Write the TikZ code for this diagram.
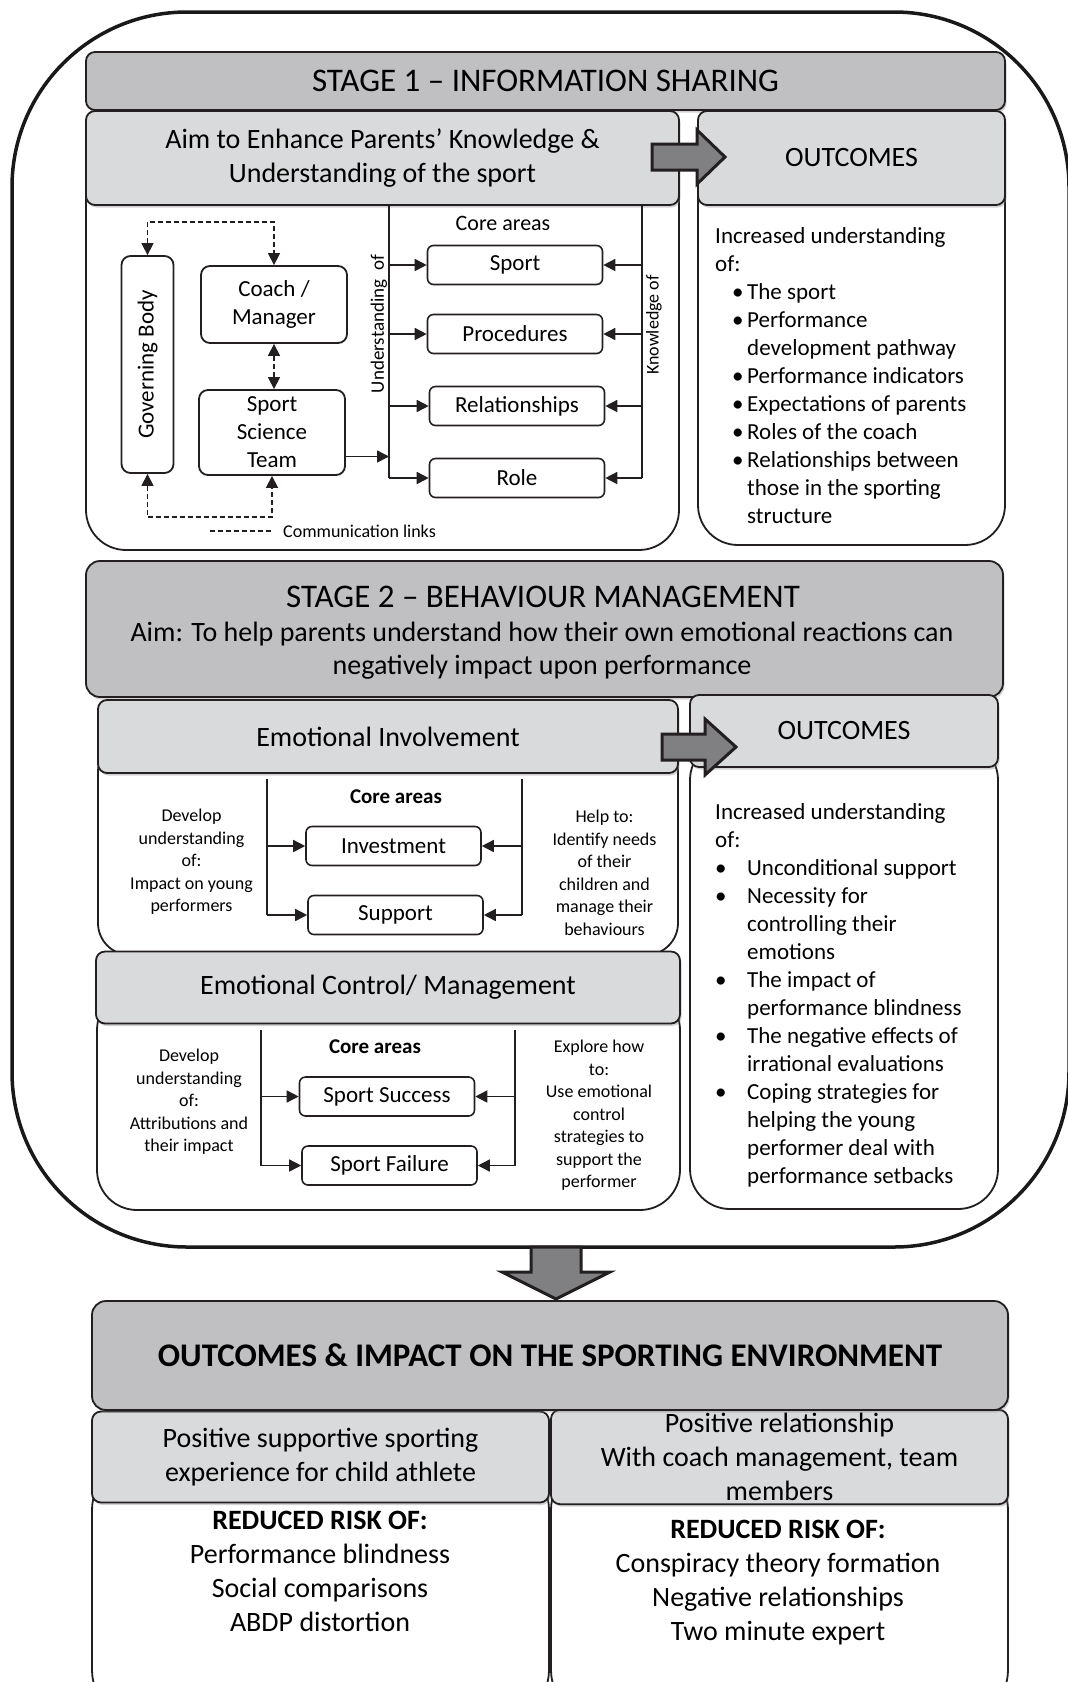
\documentclass[tikz,border=0pt]{standalone}
\usepackage{fontspec}
\setmainfont{Carlito}
\usetikzlibrary{arrows.meta,shadows}

\definecolor{hdrgray}{RGB}{192,192,194}
\definecolor{subgray}{RGB}{217,218,219}
\definecolor{arrgray}{RGB}{128,128,130}
\definecolor{linegray}{RGB}{35,31,32}

\newcommand{\fsz}[2]{\fontsize{#1}{#2}\selectfont}
\newcommand{\bulA}{\hspace*{17pt}\makebox[15pt][l]{\textbullet}}
\newcommand{\indA}{\hspace*{32pt}}
\newcommand{\bulB}{\makebox[32pt][l]{\textbullet}}

\begin{document}
\begin{tikzpicture}[x=1pt,y=-1pt,
    hdr/.style={draw=linegray, line width=1.8pt, fill=hdrgray, rounded corners=9pt,
        drop shadow={opacity=0.35, shadow xshift=1.5pt, shadow yshift=-2.5pt},
        font=\fsz{28}{34}, align=center},
    sub/.style={hdr, fill=subgray},
    body/.style={draw=linegray, line width=1.8pt, fill=white, rounded corners=40pt},
    core/.style={draw=linegray, line width=1.6pt, fill=white, rounded corners=6pt,
        minimum width=175pt, minimum height=39pt, font=\fsz{23}{28}},
    box/.style={draw=linegray, line width=1.8pt, rounded corners=9pt, align=center,
        font=\fsz{23}{28}, inner sep=0pt},
    ln/.style={linegray, line width=1.6pt},
    arr/.style={ln, -{Triangle[length=12pt,width=12pt]}},
    dlink/.style={linegray, line width=1.4pt, dash pattern=on 5pt off 3pt,
        {Triangle[length=12pt,width=12pt]}-{Triangle[length=12pt,width=12pt]}},
    small/.style={align=center, font=\fsz{18}{22.5}, inner sep=0pt},
    blockarr/.style={draw=linegray, line width=3pt, fill=arrgray, line join=miter}
]
    \useasboundingbox (0,0) rectangle (1068,1682);
    \clip (0,0) rectangle (1068,1682);

    % outer frame
    \draw[black!90, line width=3.5pt, rounded corners=175pt] (12,12) rectangle (1069,1247);

    % stage 1
    \draw[body] (86,150) rectangle (679,550);
    \draw[body] (698,150) rectangle (1005,545);
    \node[hdr, minimum width=919, minimum height=58, font=\fsz{33}{39}] (stA) at (545.5,81) {STAGE 1 – INFORMATION SHARING};
    \node[sub, minimum width=593, minimum height=94] (aim) at (382.5,158) {Aim to Enhance Parents’ Knowledge \&\\Understanding of the sport};
    \node[sub, minimum width=307, minimum height=94] (outA) at (851.5,158) {OUTCOMES};
    \draw[blockarr] (652,144) -- (697,144) -- (697,130) -- (725,157) -- (697,184) -- (697,170) -- (652,170) -- cycle;

    \node[box, minimum width=52, minimum height=217] (gb) at (147.5,364.5) {\rotatebox{90}{Governing Body}};
    \node[box, minimum width=146, minimum height=77] (coach) at (274,304.5) {Coach /\\Manager};
    \node[box, minimum width=146, minimum height=85] (sst) at (272,432.5) {Sport\\Science\\Team};
    \draw[dlink] (gb.north) -- ++(0,-33) -| (coach.north);
    \draw[dlink] (coach.south) -- (coach.south |- sst.north);
    \draw[dlink] (gb.south) -- ++(0,43) -| (sst.south);
    \coordinate (lgs) at (210,531);
    \node[anchor=west, font=\fsz{18}{22}, inner sep=0pt] (lgd) at (283,531) {Communication links};
    \draw[linegray, line width=1.4pt, dash pattern=on 5pt off 3pt, shorten >=11pt] (lgs) -- (lgd.west);

    \coordinate (undT) at (389,206);
    \coordinate (undB) at (389,478);
    \coordinate (knoT) at (642,206);
    \coordinate (knoB) at (642,478);
    \draw[ln] (undT) -- (undB);
    \draw[ln] (knoT) -- (knoB);
    \node[font=\fsz{22}{26}] (crA) at (503,223) {Core areas};
    \node[font=\fsz{19}{22}] (undlab) at (379,324) {\rotatebox{90}{Understanding\ \ of}};
    \node[font=\fsz{18}{22}] (knolab) at (654,325) {\rotatebox{90}{Knowledge of}};

    \node[core] (sport) at (515,265) {Sport};
    \node[core] (proc) at (515,334) {Procedures};
    \node[core] (rel) at (517,406) {Relationships};
    \node[core] (role) at (517,478) {Role};
    \draw[arr] (undT |- sport.west) -- (sport.west);
    \draw[arr] (undT |- proc.west) -- (proc.west);
    \draw[arr] (undT |- rel.west) -- (rel.west);
    \draw[arr] (undT |- role.west) -- (role.west);
    \draw[arr] (knoT |- sport.east) -- (sport.east);
    \draw[arr] (knoT |- proc.east) -- (proc.east);
    \draw[arr] (knoT |- rel.east) -- (rel.east);
    \draw[arr] (knoT |- role.east) -- (role.east);
    \draw[arr] ([yshift=-24pt]sst.east) -- ([yshift=-24pt]sst.east -| undT);

    \node[anchor=north west, align=left, inner sep=0pt, font=\fsz{23}{28}] (outAtxt) at (715,227) {Increased understanding\\
        of:\\
        \bulA The sport\\
        \bulA Performance\\
        \indA development pathway\\
        \bulA Performance indicators\\
        \bulA Expectations of parents\\
        \bulA Roles of the coach\\
        \bulA Relationships between\\
        \indA those in the sporting\\
        \indA structure};

    % stage 2
    \node[hdr, minimum width=917, minimum height=136, rounded corners=14pt] (stB) at (544.5,629) {};
    \node[font=\fsz{33}{39}] (stBtl) at (543,597) {STAGE 2 – BEHAVIOUR MANAGEMENT};
    \node[align=center, font=\fsz{28}{33}] (stBaim) at (542,651) {Aim: To help parents understand how their own emotional reactions can\\negatively impact upon performance};

    \draw[body, rounded corners=32pt] (98,740) rectangle (678,955);
    \draw[body] (97,990) rectangle (680,1210);
    \draw[body] (690,740) rectangle (998,1209);
    \node[sub, minimum width=580, minimum height=73] (emoI) at (388,736.5) {Emotional Involvement};
    \node[sub, minimum width=584, minimum height=72] (emoC) at (388,987.5) {Emotional Control/ Management};
    \node[sub, minimum width=308, minimum height=72] (outB) at (844,731) {OUTCOMES};
    \draw[blockarr] (662,734) -- (705,734) -- (705,719) -- (736,747) -- (705,775) -- (705,760) -- (662,760) -- cycle;

    % emotional involvement
    \coordinate (eiL) at (267,779);
    \coordinate (eiR) at (522,779);
    \node[core] (inv) at (393.5,846) {Investment};
    \node[core] (supp) at (395.5,915) {Support};
    \draw[ln] (eiL) -- (eiL |- supp.west);
    \draw[ln] (eiR) -- (eiR |- supp.east);
    \draw[arr] (eiL |- inv.west) -- (inv.west);
    \draw[arr] (eiL |- supp.west) -- (supp.west);
    \draw[arr] (eiR |- inv.east) -- (inv.east);
    \draw[arr] (eiR |- supp.east) -- (supp.east);
    \node[font=\fsz{21}{25}\bfseries] (crB) at (396,797) {Core areas};
    \node[small] (eiTl) at (191.5,862) {Develop\\understanding\\of:\\Impact on young\\performers};
    \node[small] (eiTr) at (604.5,873) {Help to:\\Identify needs\\of their\\children and\\manage their\\behaviours};

    % emotional control
    \coordinate (ecL) at (261,1030);
    \coordinate (ecR) at (515,1030);
    \node[core] (succ) at (387,1096.5) {Sport Success};
    \node[core] (fail) at (389.5,1165.5) {Sport Failure};
    \draw[ln] (ecL) -- (ecL |- fail.west);
    \draw[ln] (ecR) -- (ecR |- fail.east);
    \draw[arr] (ecL |- succ.west) -- (succ.west);
    \draw[arr] (ecL |- fail.west) -- (fail.west);
    \draw[arr] (ecR |- succ.east) -- (succ.east);
    \draw[arr] (ecR |- fail.east) -- (fail.east);
    \node[font=\fsz{21}{25}\bfseries] (crC) at (375,1047) {Core areas};
    \node[small] (ecTl) at (189,1102) {Develop\\understanding\\of:\\Attributions and\\their impact};
    \node[small] (ecTr) at (599,1115.5) {Explore how\\to:\\Use emotional\\control\\strategies to\\support the\\performer};

    \node[anchor=north west, align=left, inner sep=0pt, font=\fsz{23}{28}] (outBtxt) at (715,803) {Increased understanding\\
        of:\\
        \bulB Unconditional support\\
        \bulB Necessity for\\
        \indA controlling their\\
        \indA emotions\\
        \bulB The impact of\\
        \indA performance blindness\\
        \bulB The negative effects of\\
        \indA irrational evaluations\\
        \bulB Coping strategies for\\
        \indA helping the young\\
        \indA performer deal with\\
        \indA performance setbacks};

    % outcomes and impact
    \draw[body, rounded corners=50pt] (92,1460) rectangle (549,1720);
    \draw[body, rounded corners=50pt] (551,1460) rectangle (1008,1720);
    \node[sub, minimum width=457, minimum height=91] (envL) at (320.5,1457) {Positive supportive sporting\\experience for child athlete};
    \node[sub, minimum width=457, minimum height=91] (envR) at (779.5,1457) {Positive relationship\\With coach management, team\\members};
    \node[hdr, minimum width=916, minimum height=109, rounded corners=14pt, font=\fsz{33}{39}\bfseries] (envH) at (550,1355.5) {OUTCOMES \& IMPACT ON THE SPORTING ENVIRONMENT};
    \draw[blockarr] (531,1247) -- (581,1247) -- (581,1272) -- (610,1272) -- (556,1299) -- (502,1272) -- (531,1272) -- cycle;

    \node[align=center, font=\fsz{28}{34}] (envLt) at (320,1571) {{\bfseries REDUCED RISK OF:}\\Performance blindness\\Social comparisons\\ABDP distortion};
    \node[align=center, font=\fsz{28}{34}] (envRt) at (778,1583) {{\bfseries REDUCED RISK OF:}\\Conspiracy theory formation\\Negative relationships\\Two minute expert};
\end{tikzpicture}
\end{document}
